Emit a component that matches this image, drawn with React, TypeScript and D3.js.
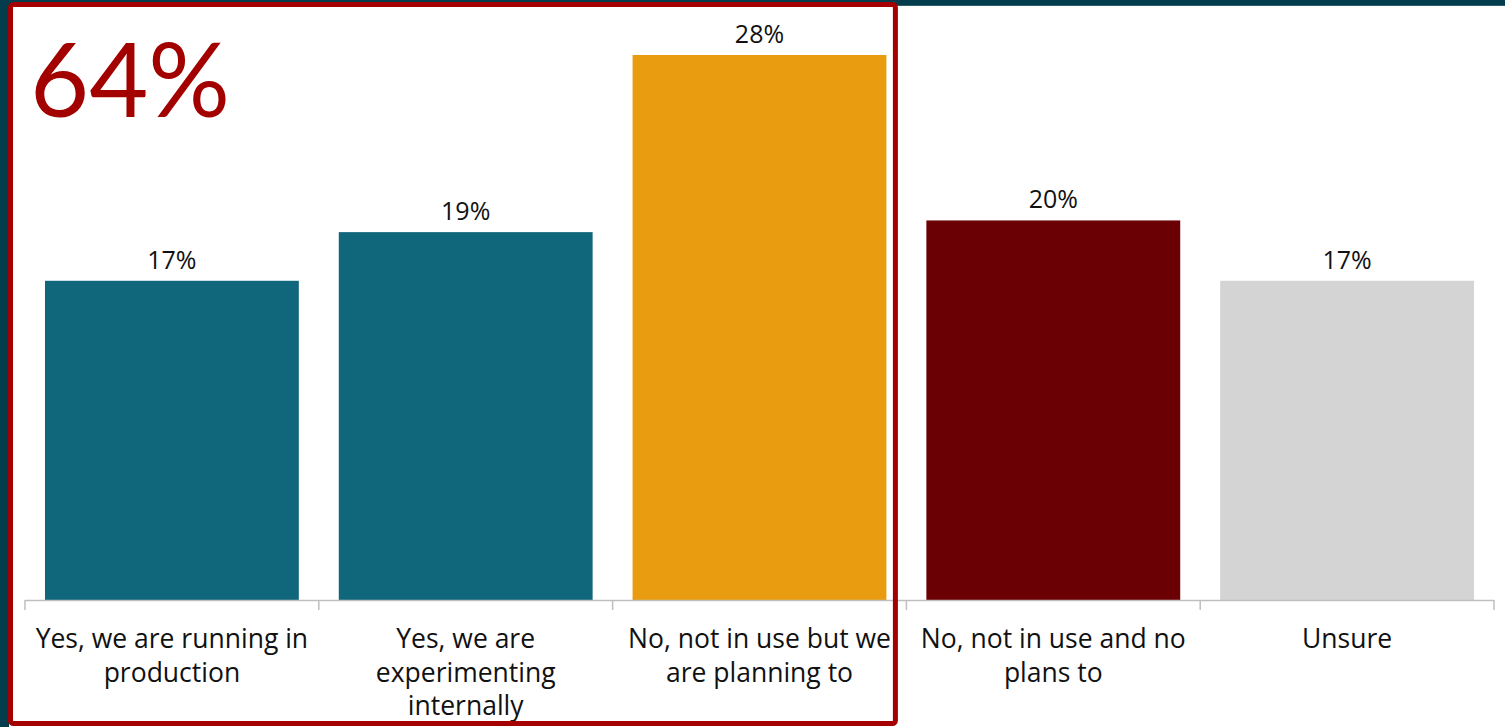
import React from "react";
import * as d3 from "d3";

const categories = [
  "Yes, we are running in\nproduction",
  "Yes, we are\nexperimenting\ninternally",
  "No, not in use but we\nare planning to",
  "No, not in use and no\nplans to",
  "Unsure",
];
const values = [16.4, 18.9, 28.0, 19.5, 16.4];
const valueLabels = ["17%", "19%", "28%", "20%", "17%"];
const colors = ["#10667a", "#10667a", "#e99c0f", "#6b0004", "#d4d4d4"];
const highlightText = "64%";
const highlightCount = 3;

const W = 1505;
const H = 727;
const FONT = "'Open Sans', sans-serif";

export default function App() {
  const x = d3
    .scaleBand<string>()
    .domain(categories)
    .range([25, 1494])
    .paddingInner(0.136)
    .paddingOuter(0.068);
  const y = d3.scaleLinear().domain([0, 28]).range([600, 55]);
  const step = x.step();
  const bandStart = (c: string) => (x(c) as number) - (step - x.bandwidth()) / 2;
  const ticks = categories.map(bandStart).concat([bandStart(categories[categories.length - 1]) + step]);
  const hlRight = bandStart(categories[highlightCount - 1]) + step - 11;

  return (
    <svg
      width={W}
      height={H}
      style={{ position: "absolute", left: 0, top: 0, display: "block" }}
    >
      <rect x={0} y={0} width={W} height={H} fill="#ffffff" />
      <rect x={0} y={0} width={W} height={5} fill="#033c4c" />
      <rect x={0} y={5} width={W} height={1} fill="#2f5f6c" />
      <rect x={0} y={0} width={9} height={H} fill="#033c4c" />
      {categories.map((c, i) => (
        <rect
          key={c}
          x={x(c)}
          y={y(values[i])}
          width={x.bandwidth()}
          height={600 - y(values[i])}
          fill={colors[i]}
        />
      ))}
      <line x1={25} x2={1494} y1={600.5} y2={600.5} stroke="#bfbfbf" strokeWidth={1.5} />
      {ticks.map((t, i) => (
        <line key={i} x1={t} x2={t} y1={600} y2={610} stroke="#bfbfbf" strokeWidth={1.5} />
      ))}
      {categories.map((c, i) => (
        <text
          key={"v" + i}
          x={(x(c) as number) + x.bandwidth() / 2}
          y={y(values[i]) - 12}
          textAnchor="middle"
          fontFamily={FONT}
          fontSize={25}
          fontWeight={500}
          fill="#111"
        >
          {valueLabels[i]}
        </text>
      ))}
      {categories.map((c, i) => (
        <text
          key={"c" + i}
          x={(x(c) as number) + x.bandwidth() / 2}
          y={648}
          textAnchor="middle"
          fontFamily={FONT}
          fontSize={26.5}
          fontWeight={500}
          fill="#111"
        >
          {c.split("\n").map((ln, j) => (
            <tspan key={j} x={(x(c) as number) + x.bandwidth() / 2} dy={j === 0 ? 0 : 33.5}>
              {ln}
            </tspan>
          ))}
        </text>
      ))}
      <rect
        x={10.5}
        y={4.5}
        width={hlRight - 10.5}
        height={719}
        rx={3}
        fill="none"
        stroke="#a50000"
        strokeWidth={5}
      />
      <text x={30} y={117} fontFamily="Lato, sans-serif" fontWeight={400} fontSize={102} fill="#a30000">
        {highlightText}
      </text>
    </svg>
  );
}
